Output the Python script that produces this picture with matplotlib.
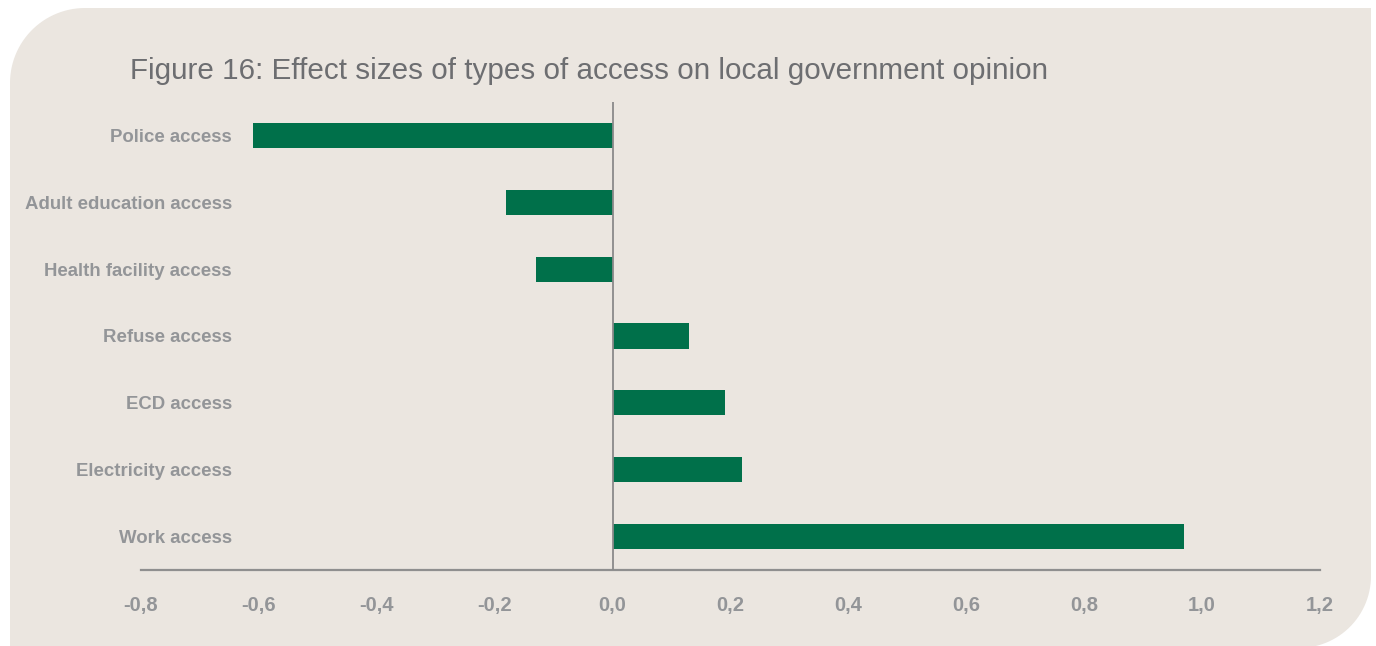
import numpy as np
import matplotlib.pyplot as plt
from matplotlib.path import Path
from matplotlib.patches import PathPatch

categories = ["Police access", "Adult education access", "Health facility access",
              "Refuse access", "ECD access", "Electricity access", "Work access"]
effects = [-0.61, -0.18, -0.13, 0.13, 0.19, 0.22, 0.97]
xticks = [-0.8, -0.6, -0.4, -0.2, 0.0, 0.2, 0.4, 0.6, 0.8, 1.0, 1.2]
xticklabels = ["-0,8", "-0,6", "-0,4", "-0,2", "0,0", "0,2", "0,4", "0,6", "0,8", "1,0", "1,2"]
title = "Figure 16: Effect sizes of types of access on local government opinion"

W, H = 1376, 646
BG = "#ebe6e0"
GREEN = "#00704a"
GREY_TXT = "#939598"
TITLE_C = "#6d6e71"

plt.rcParams['font.family'] = ['Liberation Sans', 'DejaVu Sans']
fig = plt.figure(figsize=(W / 100, H / 100), dpi=100)
fig.patch.set_facecolor("white")

# background shape: rounded top-left and bottom-right corners
def arc(cx, cy, r, a0, a1, n=30):
    t = np.linspace(np.radians(a0), np.radians(a1), n)
    return list(zip(cx + r * np.cos(t), cy + r * np.sin(t)))

L, R, T, B = 10, 1371, H - 8, -2
r1, r2 = 75, 72
pts = []
pts += arc(L + r1, T - r1, r1, 180, 90)       # top-left
pts += [(R, T)]                                # top-right square
pts += arc(R - r2, B + r2, r2, 0, -90)        # bottom-right
pts += [(L, B)]                                # bottom-left square
pts.append(pts[0])
pts = [(x / W, y / H) for x, y in pts]
codes = [Path.MOVETO] + [Path.LINETO] * (len(pts) - 2) + [Path.CLOSEPOLY]
fig.patches.append(PathPatch(Path(pts, codes), transform=fig.transFigure,
                             facecolor=BG, edgecolor="none", zorder=-10))

ax = fig.add_axes([141 / W, 1 - 570 / H, (1320 - 141) / W, (570 - 102) / H])
ax.set_facecolor("none")
y = np.arange(len(categories))
ax.barh(y, effects, height=0.375, color=GREEN, zorder=2)
ax.set_ylim(len(categories) - 0.5, -0.5)
ax.set_xlim(-0.8, 1.2)
ax.axvline(0, color="#8a8a8a", lw=1.3, zorder=3)

for s in ["top", "right", "left"]:
    ax.spines[s].set_visible(False)
ax.spines["bottom"].set_color("#8f8f8f")
ax.spines["bottom"].set_linewidth(1.6)

ax.set_xticks(xticks)
ax.set_xticklabels(xticklabels)
ax.set_yticks(y)
ax.set_yticklabels(categories)
ax.tick_params(axis="x", length=0, pad=19, labelsize=14.5, labelcolor=GREY_TXT)
ax.tick_params(axis="y", length=0, pad=-(232 - 141) * 0.72, labelsize=13.4, labelcolor=GREY_TXT)
for lbl in ax.get_xticklabels() + ax.get_yticklabels():
    lbl.set_fontweight("bold")

fig.text(130 / W, 1 - 71 / H, title, fontsize=21.3, color=TITLE_C, va="center", ha="left")

fig.savefig("out.png", dpi=100, facecolor=fig.get_facecolor())
